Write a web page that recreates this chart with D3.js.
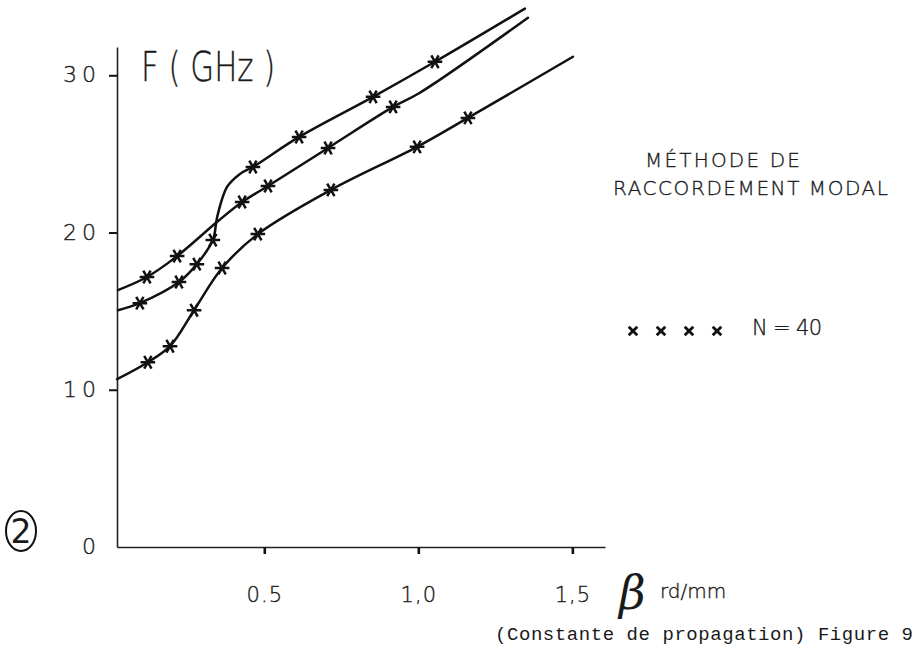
<!DOCTYPE html>
<html>
<head>
<meta charset="utf-8">
<script src="https://cdn.jsdelivr.net/npm/d3@7"></script>
<style>
  html, body { margin: 0; padding: 0; background: #fff; }
  svg { display: block; }
  text { font-family: "DejaVu Sans", "Liberation Sans", sans-serif; fill: #1a1a1a; font-weight: 300;
         stroke: #1a1a1a; stroke-width: 0.35px; }
  text.plain { stroke: none; font-weight: normal; }
</style>
</head>
<body>
<svg id="chart" width="918" height="648"></svg>
<script>
// ---- data ----
const xTickValues = [0.5, 1.0, 1.5];
const xTickLabels = ["0.5", "1,0", "1,5"];
const yTickValues = [0, 10, 20, 30];
const yTickLabels = ["0", "10", "20", "30"];

// curve starting at 15 GHz, ending as the top curve
const curveA = [[0.025,15.06],[0.096,15.51],[0.223,16.85],[0.281,17.99],[0.333,19.52],[0.347,20.99],[0.379,22.9],[0.421,23.73],[0.463,24.17],[0.613,26.08],[0.853,28.63],[1.054,30.86],[1.346,34.24]];
const markersA = [[0.096,15.51],[0.223,16.85],[0.281,17.99],[0.333,19.52],[0.463,24.17],[0.613,26.08],[0.853,28.63],[1.054,30.86]];
// curve starting at 16.3 GHz, ending as the middle curve
const curveB = [[0.025,16.34],[0.119,17.17],[0.217,18.5],[0.350,20.73],[0.428,21.94],[0.512,22.96],[0.707,25.38],[0.918,27.99],[1.005,28.89],[1.356,33.66]];
const markersB = [[0.119,17.17],[0.217,18.5],[0.428,21.94],[0.512,22.96],[0.707,25.38],[0.918,27.99]];
// lowest curve
const curveC = [[0.022,10.67],[0.122,11.75],[0.194,12.77],[0.272,15.06],[0.363,17.74],[0.479,19.9],[0.716,22.71],[0.996,25.45],[1.161,27.29],[1.502,31.18]];
const markersC = [[0.122,11.75],[0.194,12.77],[0.272,15.06],[0.363,17.74],[0.479,19.9],[0.716,22.71],[0.996,25.45],[1.161,27.29]];

const legendMarks = [0, 1, 2, 3];

// ---- drawing ----
const svg = d3.select("#chart");
const x = d3.scaleLinear().domain([0.0218, 1.606]).range([117, 605]);
const y = d3.scaleLinear().domain([0, 31.8]).range([547, 47]);

// axes
const xAxis = d3.axisBottom(x).tickValues(xTickValues)
  .tickFormat((d, i) => xTickLabels[i]).tickSize(7).tickSizeOuter(0).tickPadding(33);
const gx = svg.append("g").attr("transform", "translate(0,547)").call(xAxis);
gx.select(".domain").attr("stroke", "#222").attr("stroke-width", 1.6);
gx.selectAll(".tick line").attr("stroke", "#111").attr("stroke-width", 2.6);
gx.selectAll(".tick text").attr("font-size", 21).attr("fill", "#1a1a1a")
  .attr("letter-spacing", 1)
  .style("font-family", "DejaVu Sans, sans-serif").style("font-weight", 300);

const yAxis = d3.axisLeft(y).tickValues(yTickValues)
  .tickFormat((d, i) => yTickLabels[i]).tickSize(8).tickSizeOuter(0).tickPadding(8);
const gy = svg.append("g").attr("transform", "translate(117,0)").call(yAxis);
gy.select(".domain").attr("stroke", "#222").attr("stroke-width", 1.6);
gy.selectAll(".tick line").attr("stroke", "#111").attr("stroke-width", 2);
gy.selectAll(".tick").filter(d => d === 0).select("line").remove();
gy.selectAll(".tick text").attr("font-size", 22).attr("fill", "#1a1a1a")
  .attr("letter-spacing", 5).attr("dy", "0.3em")
  .style("font-family", "DejaVu Sans, sans-serif").style("font-weight", 300);

// curves
const line = d3.line().x(d => x(d[0])).y(d => y(d[1])).curve(d3.curveCatmullRom.alpha(0.5));
[curveA, curveB, curveC].forEach(c => {
  svg.append("path").datum(c).attr("d", line)
    .attr("fill", "none").attr("stroke", "#111").attr("stroke-width", 2.5)
    .attr("stroke-linecap", "round");
});

// markers
const star = d3.symbol().type(d3.symbolAsterisk).size(150);
[markersA, markersB, markersC].forEach(m => {
  svg.append("g").selectAll("path").data(m).join("path")
    .attr("d", star)
    .attr("transform", d => `translate(${x(d[0])},${y(d[1])}) rotate(90)`)
    .attr("fill", "none").attr("stroke", "#111").attr("stroke-width", 2.5);
});

// title F ( GHz ) — narrow lettering
svg.append("text").attr("transform", "translate(141,81) scale(0.77,1)")
  .attr("font-size", 40).text("F ( GHz )");

svg.append("text").attr("x", 645).attr("y", 167).attr("font-size", 20)
  .attr("textLength", 155).attr("lengthAdjust", "spacing").text("MÉTHODE DE");
svg.append("text").attr("x", 613).attr("y", 195).attr("font-size", 20)
  .attr("textLength", 275).attr("lengthAdjust", "spacing").text("RACCORDEMENT MODAL");

// legend crosses
const times = d3.symbol().type(d3.symbolTimes).size(50);
svg.append("g").selectAll("path").data(legendMarks).join("path")
  .attr("d", times)
  .attr("transform", (d, i) => `translate(${633 + i * 28},${331})`)
  .attr("fill", "none").attr("stroke", "#111").attr("stroke-width", 2.8);
svg.append("text").attr("x", 752).attr("y", 335).attr("font-size", 21)
  .attr("textLength", 70).attr("lengthAdjust", "spacing").text("N = 40");

// circled 2
svg.append("ellipse").attr("cx", 21).attr("cy", 531).attr("rx", 15).attr("ry", 20)
  .attr("fill", "none").attr("stroke", "#111").attr("stroke-width", 2);
svg.append("text").attr("class", "plain").attr("x", 21).attr("y", 543).attr("font-size", 33)
  .attr("text-anchor", "middle").text("2");

// x-axis unit
svg.append("text").attr("class", "plain").attr("x", 619).attr("y", 609).attr("font-size", 46)
  .style("font-family", "DejaVu Serif, serif")
  .attr("font-style", "italic").text("β");
svg.append("text").attr("x", 660).attr("y", 598).attr("font-size", 20).text("rd/mm");

svg.append("text").attr("class", "plain").attr("x", 495).attr("y", 640).attr("font-size", 19)
  .style("font-family", "Liberation Mono, monospace")
  .attr("textLength", 418).attr("lengthAdjust", "spacing")
  .text("(Constante de propagation) Figure 9");
</script>
</body>
</html>
